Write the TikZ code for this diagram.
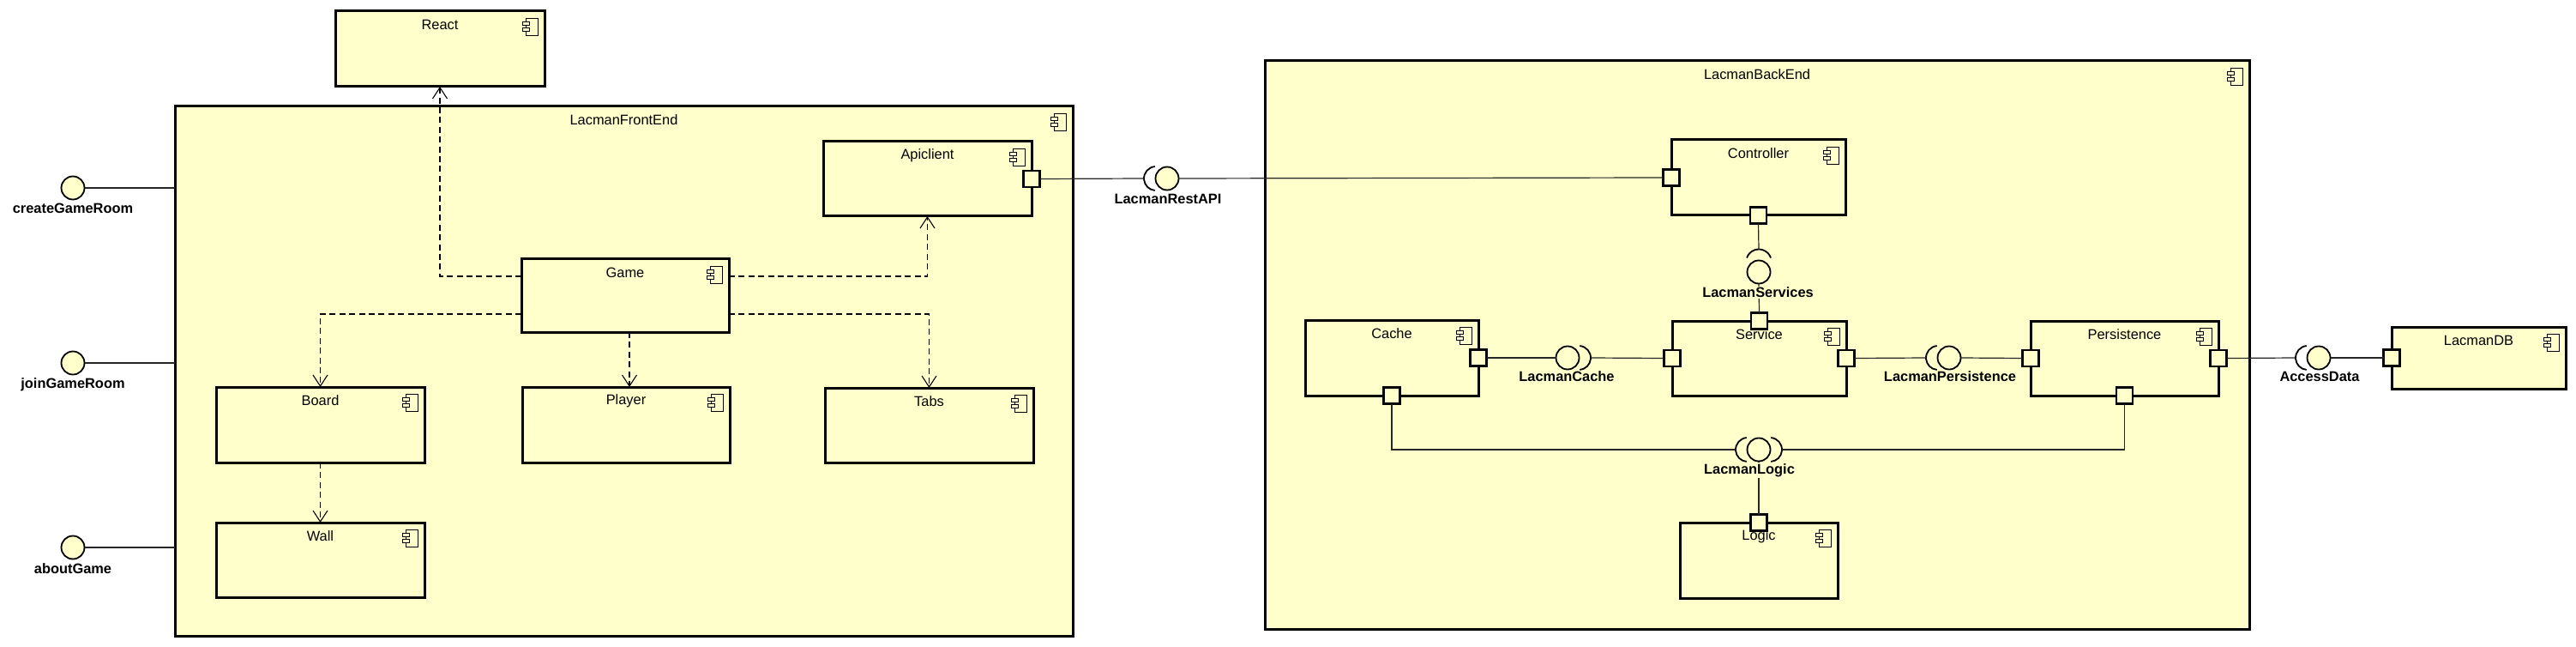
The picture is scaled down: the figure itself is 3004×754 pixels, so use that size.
\documentclass[tikz,border=0pt]{standalone}
\usepackage{fontspec}
\setmainfont{Liberation Sans}
\usetikzlibrary{arrows.meta,calc}
\definecolor{compfill}{HTML}{FFFFCC}
\tikzset{
 compbox/.style={draw=black, line width=1.5pt, fill=compfill, inner sep=0pt, outer sep=0pt},
 comptitle/.style={font=\fontsize{8.2}{9}\selectfont, inner sep=0pt},
 compicon/.style={draw=black, line width=0.45pt},
 portbox/.style={draw=black, line width=1.4pt, fill=compfill, minimum size=9.5pt, inner sep=0pt, outer sep=0pt},
 ifcircle/.style={circle, draw=black, line width=0.9pt, fill=compfill, minimum size=13.5pt, inner sep=0pt, outer sep=0pt},
 sockarc/.style={draw=black, line width=0.9pt},
 iflabel/.style={font=\bfseries\fontsize{8.2}{9}\selectfont, inner sep=0.6pt},
 wire/.style={draw=black!85, line width=0.6pt},
 depend/.style={draw=black, line width=0.55pt, dash pattern=on 3.5pt off 2.2pt, -{Straight Barb[length=6.5pt,width=8.5pt]}},
}
\newcommand\umlcomp[6]{%
  \node[compbox, minimum width={(#4-#2)*0.5pt}, minimum height={(#5-#3)*0.5pt}] (#1) at ({(#2+#4)/2},{(#3+#5)/2}) {};
  \node[comptitle] (#1-title) at ({(#2+#4)/2},{#3+16}) {#6};
  \draw[compicon] ({#4-22},{#3+8}) rectangle ({#4-8},{#3+28});
  \draw[compicon, fill=compfill] ({#4-26},{#3+12}) rectangle ({#4-18},{#3+16});
  \draw[compicon, fill=compfill] ({#4-26},{#3+19}) rectangle ({#4-18},{#3+23});
}
\newcommand\sockL[2]{%
  \draw[sockarc] ($(#1.center)+(-7.11pt,6.97pt)$) arc[start angle=95,end angle=265,radius=7pt];
  \coordinate (#2) at ($(#1.center)+(-13.5pt,0pt)$);}
\newcommand\sockR[2]{%
  \draw[sockarc] ($(#1.center)+(7.11pt,6.97pt)$) arc[start angle=85,end angle=-85,radius=7pt];
  \coordinate (#2) at ($(#1.center)+(13.5pt,0pt)$);}
\newcommand\sockT[2]{%
  \draw[sockarc] ($(#1.center)+(7pt,8.25pt)$) arc[start angle=19,end angle=161,radius=7.4pt];
  \coordinate (#2) at ($(#1.center)+(0pt,13.25pt)$);}
\begin{document}
\begin{tikzpicture}[x=0.5pt,y=-0.5pt]
\useasboundingbox (0,0) rectangle (3004,754);
\fill[white] (0,0) rectangle (3004,754);

% containers
\umlcomp{fe}{204}{124}{1251}{741}{LacmanFrontEnd}
\umlcomp{be}{1475}{71}{2623}{733}{LacmanBackEnd}

% front end components
\umlcomp{react}{391}{13}{635}{101}{React}
\umlcomp{api}{960}{165}{1203}{252}{Apiclient}
\umlcomp{game}{608}{302}{850}{387}{Game}
\umlcomp{board}{252}{451}{495}{539}{Board}
\umlcomp{player}{609}{451}{851}{539}{Player}
\umlcomp{tabs}{962}{452}{1205}{539}{Tabs}
\umlcomp{wall}{252}{609}{495}{696}{Wall}

% back end components
\umlcomp{ctrl}{1949}{163}{2152}{251}{Controller}
\umlcomp{serv}{1950}{374}{2153}{461}{Service}
\umlcomp{cache}{1522}{373}{1724}{461}{Cache}
\umlcomp{pers}{2368}{374}{2587}{461}{Persistence}
\umlcomp{logic}{1959}{609}{2143}{697}{Logic}
\umlcomp{db}{2789}{381}{2992}{453}{LacmanDB}

% dependencies
\draw[depend] ([yshift=11.25pt]game.west) -| (react.south);
\draw[depend] ([yshift=11.25pt]game.east) -| (api.south);
\draw[depend] ([yshift=-10.75pt]game.west) -| (board.north);
\draw[depend] ([yshift=-10.75pt]game.east) -| (tabs.north);
\draw[depend] ([xshift=2.5pt]game.south) -- ([xshift=2.5pt]game.south |- player.north);
\draw[depend] (board.south) -- (wall.north);

% provided interfaces of the front end
\node[ifcircle] (cgr) at (85,219) {};
\node[iflabel] (cgr-l) at (85,243) {createGameRoom};
\draw[wire] (cgr.east) -- (cgr.east -| fe.west);
\node[ifcircle] (jgr) at (85,423) {};
\node[iflabel] (jgr-l) at (85,448) {joinGameRoom};
\draw[wire] (jgr.east) -- (jgr.east -| fe.west);
\node[ifcircle] (abg) at (85,638) {};
\node[iflabel] (abg-l) at (85,663) {aboutGame};
\draw[wire] (abg.east) -- (abg.east -| fe.west);

% interface circles
\node[ifcircle] (rest) at (1361,208) {};
\node[ifcircle] (srv) at (2051,317) {};
\node[ifcircle] (cachei) at (1828,417) {};
\node[ifcircle] (persi) at (2273,417) {};
\node[ifcircle] (acc) at (2704,417) {};
\node[ifcircle] (logi) at (2051,524) {};
\sockL{rest}{rest-s}
\sockT{srv}{srv-s}
\sockR{cachei}{cachei-s}
\sockL{persi}{persi-s}
\sockL{acc}{acc-s}
\sockL{logi}{logi-sl}
\sockR{logi}{logi-sr}

% ports
\node[portbox] (api-p) at (api.east) {};
\node[portbox] (ctrl-pl) at (ctrl.west) {};
\node[portbox] (ctrl-pb) at (ctrl.south) {};
\node[portbox] (serv-pt) at (serv.north) {};
\node[portbox] (serv-pl) at (serv.west) {};
\node[portbox] (serv-pr) at (serv.east) {};
\node[portbox] (cache-pr) at (cache.east) {};
\node[portbox] (cache-pb) at (cache.south) {};
\node[portbox] (pers-pl) at (pers.west) {};
\node[portbox] (pers-pr) at (pers.east) {};
\node[portbox] (pers-pb) at (pers.south) {};
\node[portbox] (logic-pt) at (logic.north) {};
\node[portbox] (db-p) at (db.west) {};

% wires
\draw[wire] (api-p.east) -- (rest-s);
\draw[wire] (rest.east) -- (ctrl-pl.west);
\draw[wire] (ctrl-pb.south) -- (srv-s);
\draw[wire] (srv.south) -- (serv-pt.north);
\draw[wire] (cache-pr.east) -- (cachei.west);
\draw[wire] (cachei-s) -- (serv-pl.west);
\draw[wire] (serv-pr.east) -- (persi-s);
\draw[wire] (persi.east) -- (pers-pl.west);
\draw[wire] (pers-pr.east) -- (acc-s);
\draw[wire] (acc.east) -- (db-p.west);
\draw[wire] (cache-pb.south) |- (logi-sl);
\draw[wire] (pers-pb.south) |- (logi-sr);
\draw[wire] (logi.south) -- (logic-pt.north);

% interface labels
\node[iflabel] (rest-l) at (1362,232) {LacmanRestAPI};
\node[iflabel, fill=compfill] (srv-l) at (2050,341) {LacmanServices};
\node[iflabel] (cachei-l) at (1827,439) {LacmanCache};
\node[iflabel] (persi-l) at (2274,439) {LacmanPersistence};
\node[iflabel] (acc-l) at (2705,439) {AccessData};
\node[iflabel, fill=compfill] (logi-l) at (2040,548) {LacmanLogic};
\end{tikzpicture}
\end{document}
